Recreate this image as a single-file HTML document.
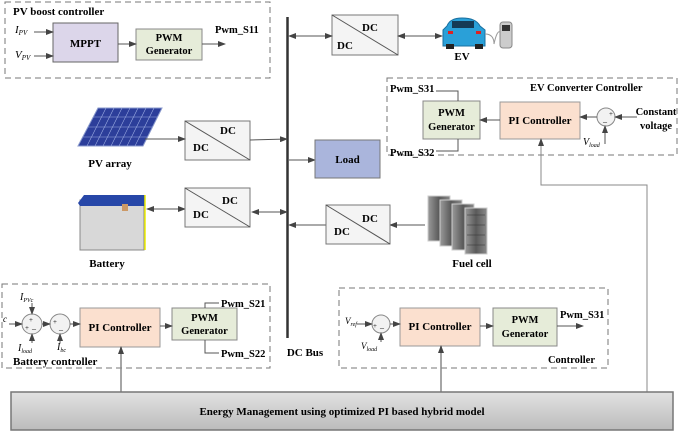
<!DOCTYPE html>
<html><head><style>
html,body{margin:0;padding:0;background:#fff;}
svg{display:block;font-family:"Liberation Serif",serif;}
.b{font-weight:bold;}
</style></head><body>
<svg width="685" height="432" viewBox="0 0 685 432" xmlns="http://www.w3.org/2000/svg">
<defs>
<marker id="a" markerWidth="8" markerHeight="6" refX="7" refY="3" orient="auto-start-reverse" markerUnits="userSpaceOnUse"><path d="M0,0L8,3L0,6z" fill="#444"/></marker>
<linearGradient id="g" x1="0" y1="0" x2="0" y2="1"><stop offset="0" stop-color="#e2e2e2"/><stop offset="1" stop-color="#bcbcbc"/></linearGradient>
<linearGradient id="fc" x1="0" y1="0" x2="1" y2="0"><stop offset="0" stop-color="#9a9a9a"/><stop offset="0.5" stop-color="#5a5a5a"/><stop offset="1" stop-color="#8a8a8a"/></linearGradient>
</defs>
<g fill="none" stroke="#777" stroke-dasharray="6,4" stroke-width="1">
<rect x="5" y="2" width="265" height="76"/>
<rect x="387" y="78" width="290" height="77"/>
<rect x="2" y="284" width="268" height="84"/>
<rect x="339" y="288" width="269" height="80"/>
</g>
<line x1="287.5" y1="17" x2="287.5" y2="338" stroke="#333" stroke-width="2.5"/>
<text x="305" y="356" font-size="11" class="b" text-anchor="middle">DC Bus</text>
<text x="13" y="15" font-size="11" class="b">PV boost controller</text>
<rect x="53" y="23" width="65" height="39" fill="#dcd6ea" stroke="#666"/>
<text x="85.5" y="47" font-size="11" class="b" text-anchor="middle">MPPT</text>
<rect x="136" y="29" width="66" height="31" fill="#e6ecd9" stroke="#888"/>
<text x="169" y="41" font-size="10.5" class="b" text-anchor="middle">PWM</text>
<text x="169" y="54" font-size="10.5" class="b" text-anchor="middle">Generator</text>
<text x="15" y="33" font-size="11" font-style="italic">I<tspan font-size="7" dy="2">PV</tspan></text>
<text x="15" y="58" font-size="11" font-style="italic">V<tspan font-size="7" dy="2">PV</tspan></text>
<g stroke="#555" fill="none" marker-end="url(#a)">
<line x1="34" y1="32" x2="53" y2="32"/>
<line x1="34" y1="56" x2="53" y2="56"/>
<line x1="118" y1="44" x2="136" y2="44"/>
<line x1="202" y1="44" x2="225" y2="44"/>
</g>
<text x="215" y="33" font-size="10.5" class="b">Pwm_S11</text>
<rect x="332" y="15" width="66" height="40" fill="#f4f4f4" stroke="#777"/>
<line x1="332" y1="15" x2="398" y2="55" stroke="#555"/>
<text x="370" y="31" font-size="11" class="b" text-anchor="middle">DC</text>
<text x="345" y="49" font-size="11" class="b" text-anchor="middle">DC</text>
<g stroke="#555" fill="none" marker-end="url(#a)" marker-start="url(#a)">
<line x1="289" y1="36" x2="332" y2="36"/>
<line x1="398" y1="36" x2="442" y2="36"/>
<line x1="252" y1="212" x2="287" y2="212"/>
<line x1="147" y1="209" x2="185" y2="209"/>
</g>
<path d="M447,26 Q450,18 462,18 Q476,18 480,26 L485,30 L485,46 L443,46 L443,30Z" fill="#2aa0d8" stroke="#1a70a0"/>
<rect x="452" y="21" width="22" height="7" fill="#153a55"/>
<rect x="446" y="44" width="8" height="5" fill="#222"/><rect x="475" y="44" width="8" height="5" fill="#222"/>
<rect x="448" y="31" width="5" height="3" fill="#d22"/><rect x="476" y="31" width="5" height="3" fill="#d22"/>
<rect x="500" y="22" width="12" height="26" rx="3" fill="#ccc" stroke="#888"/>
<rect x="502" y="25" width="8" height="6" fill="#333"/>
<path d="M485,34 Q494,34 494,44 Q497,30 500,32" fill="none" stroke="#999"/>
<text x="462" y="60" font-size="11" class="b" text-anchor="middle">EV</text>
<text x="530" y="91" font-size="10.5" class="b">EV Converter Controller</text>
<text x="390" y="92" font-size="10.5" class="b">Pwm_S31</text>
<text x="390" y="156" font-size="10.5" class="b">Pwm_S32</text>
<rect x="423" y="101" width="57" height="38" fill="#e6ecd9" stroke="#888"/>
<text x="451.5" y="116" font-size="10.5" class="b" text-anchor="middle">PWM</text>
<text x="451.5" y="130" font-size="10.5" class="b" text-anchor="middle">Generator</text>
<rect x="500" y="102" width="80" height="37" fill="#fbe0cf" stroke="#999"/>
<text x="540" y="124" font-size="11" class="b" text-anchor="middle">PI Controller</text>
<circle cx="606" cy="117" r="9" fill="#f2f2f2" stroke="#888"/>
<text x="609" y="116" font-size="7">+</text><text x="603" y="124" font-size="8">–</text>
<g stroke="#555" fill="none">
<polyline points="436,91 458,91 458,101"/>
<polyline points="436,151 458,151 458,139"/>
<line x1="637" y1="117" x2="615" y2="117" marker-end="url(#a)"/>
<line x1="597" y1="117" x2="580" y2="117" marker-end="url(#a)"/>
<line x1="500" y1="120" x2="480" y2="120" marker-end="url(#a)"/>
<polyline points="605,144 605,126" marker-end="url(#a)"/>
<polyline points="647,392 647,185 541,185 541,139" stroke="#888" marker-end="url(#a)"/>
</g>
<text x="583" y="145" font-size="10" font-style="italic">V<tspan font-size="6" dy="2">load</tspan></text>
<text x="656" y="115" font-size="10.5" class="b" text-anchor="middle">Constant</text>
<text x="656" y="129" font-size="10.5" class="b" text-anchor="middle">voltage</text>
<polygon points="98,108 162,108 143,146 78,146" fill="#2c3e9a" stroke="#8898cc"/>
<g stroke="#9aaae0" stroke-width="0.6">
<line x1="93" y1="117" x2="158" y2="117"/><line x1="88" y1="127" x2="153" y2="127"/><line x1="83" y1="137" x2="148" y2="137"/>
<line x1="106" y1="108" x2="87" y2="146"/><line x1="114" y1="108" x2="95" y2="146"/><line x1="122" y1="108" x2="103" y2="146"/><line x1="130" y1="108" x2="111" y2="146"/><line x1="138" y1="108" x2="119" y2="146"/><line x1="146" y1="108" x2="127" y2="146"/><line x1="154" y1="108" x2="135" y2="146"/>
</g>
<text x="110" y="167" font-size="11" class="b" text-anchor="middle">PV array</text>
<rect x="185" y="121" width="65" height="39" fill="#f4f4f4" stroke="#777"/>
<line x1="185" y1="121" x2="250" y2="160" stroke="#555"/>
<text x="228" y="134" font-size="11" class="b" text-anchor="middle">DC</text>
<text x="201" y="151" font-size="11" class="b" text-anchor="middle">DC</text>
<g stroke="#555" fill="none" marker-end="url(#a)">
<line x1="145" y1="139" x2="185" y2="139"/>
<line x1="250" y1="140" x2="287" y2="139"/>
<line x1="289" y1="160" x2="315" y2="160"/>
<line x1="425" y1="225" x2="390" y2="225"/>
<line x1="326" y1="225" x2="289" y2="225"/>
</g>
<rect x="315" y="140" width="65" height="38" fill="#aab5dc" stroke="#777"/>
<text x="347.5" y="163" font-size="11" class="b" text-anchor="middle">Load</text>
<rect x="80" y="200" width="64" height="50" fill="#d8d8d8" stroke="#888"/>
<polygon points="78,203 84,195 145,195 145,206 80,206" fill="#2747a8"/>
<rect x="122" y="204" width="6" height="7" fill="#c96"/>
<line x1="145" y1="195" x2="145" y2="250" stroke="#ee0" stroke-width="1.5"/>
<text x="107" y="267" font-size="11" class="b" text-anchor="middle">Battery</text>
<rect x="185" y="188" width="65" height="39" fill="#f4f4f4" stroke="#777"/>
<line x1="185" y1="188" x2="250" y2="227" stroke="#555"/>
<text x="230" y="204" font-size="11" class="b" text-anchor="middle">DC</text>
<text x="201" y="218" font-size="11" class="b" text-anchor="middle">DC</text>
<rect x="326" y="205" width="64" height="39" fill="#f4f4f4" stroke="#777"/>
<line x1="326" y1="205" x2="390" y2="244" stroke="#555"/>
<text x="370" y="222" font-size="11" class="b" text-anchor="middle">DC</text>
<text x="342" y="235" font-size="11" class="b" text-anchor="middle">DC</text>
<g fill="url(#fc)" stroke="#ccc">
<rect x="428" y="196" width="22" height="45"/><rect x="440" y="200" width="22" height="46"/><rect x="452" y="204" width="22" height="46"/><rect x="465" y="208" width="22" height="46"/>
</g>
<g stroke="#333" stroke-width="0.5">
<line x1="467" y1="215" x2="485" y2="215"/><line x1="467" y1="225" x2="485" y2="225"/><line x1="467" y1="235" x2="485" y2="235"/><line x1="467" y1="245" x2="485" y2="245"/>
</g>
<text x="472" y="267" font-size="11" class="b" text-anchor="middle">Fuel cell</text>
<text x="13" y="365" font-size="11" class="b">Battery controller</text>
<circle cx="32" cy="324" r="10" fill="#f2f2f2" stroke="#888"/>
<text x="29" y="322" font-size="7">+</text><text x="25" y="330" font-size="7">+</text><text x="32" y="331" font-size="8">–</text>
<circle cx="60" cy="324" r="10" fill="#f2f2f2" stroke="#888"/>
<text x="53" y="324" font-size="7">+</text><text x="59" y="332" font-size="8">–</text>
<text x="3" y="322" font-size="9" font-style="italic">c</text>
<text x="20" y="300" font-size="10" font-style="italic">I<tspan font-size="6" dy="2">PVc</tspan></text>
<text x="18" y="351" font-size="10" font-style="italic">I<tspan font-size="6" dy="2">load</tspan></text>
<text x="57" y="350" font-size="10" font-style="italic">I<tspan font-size="6" dy="2">bc</tspan></text>
<rect x="80" y="308" width="80" height="39" fill="#fbe0cf" stroke="#999"/>
<text x="120" y="331" font-size="11" class="b" text-anchor="middle">PI Controller</text>
<rect x="172" y="308" width="65" height="32" fill="#e6ecd9" stroke="#888"/>
<text x="204.5" y="321" font-size="10.5" class="b" text-anchor="middle">PWM</text>
<text x="204.5" y="334" font-size="10.5" class="b" text-anchor="middle">Generator</text>
<text x="221" y="307" font-size="10.5" class="b">Pwm_S21</text>
<text x="221" y="357" font-size="10.5" class="b">Pwm_S22</text>
<g stroke="#555" fill="none">
<polyline points="219,303 205,303 205,308"/>
<polyline points="219,353 205,353 205,340"/>
<line x1="9" y1="324" x2="22" y2="324" marker-end="url(#a)"/>
<line x1="32" y1="303" x2="32" y2="314" marker-end="url(#a)"/>
<line x1="32" y1="343" x2="32" y2="334" marker-end="url(#a)"/>
<line x1="42" y1="324" x2="50" y2="324" marker-end="url(#a)"/>
<line x1="60" y1="343" x2="60" y2="334" marker-end="url(#a)"/>
<line x1="70" y1="324" x2="80" y2="324" marker-end="url(#a)"/>
<line x1="160" y1="326" x2="172" y2="326" marker-end="url(#a)"/>
<line x1="121" y1="392" x2="121" y2="347" stroke="#888" stroke-width="1.5" marker-end="url(#a)"/>
</g>
<text x="345" y="324" font-size="9" font-style="italic">V<tspan font-size="6" dy="2">ref</tspan></text>
<circle cx="381" cy="324" r="9" fill="#f2f2f2" stroke="#888"/>
<text x="373" y="328" font-size="7">+</text><text x="380" y="330" font-size="8">–</text>
<text x="361" y="349" font-size="9" font-style="italic">V<tspan font-size="6" dy="2">load</tspan></text>
<rect x="400" y="308" width="80" height="38" fill="#fbe0cf" stroke="#999"/>
<text x="440" y="330" font-size="11" class="b" text-anchor="middle">PI Controller</text>
<rect x="493" y="308" width="64" height="38" fill="#e6ecd9" stroke="#888"/>
<text x="525" y="323" font-size="10.5" class="b" text-anchor="middle">PWM</text>
<text x="525" y="337" font-size="10.5" class="b" text-anchor="middle">Generator</text>
<text x="560" y="318" font-size="10.5" class="b">Pwm_S31</text>
<text x="595" y="363" font-size="10.5" class="b" text-anchor="end">Controller</text>
<g stroke="#555" fill="none">
<line x1="357" y1="324" x2="372" y2="324" marker-end="url(#a)"/>
<line x1="381" y1="342" x2="381" y2="333" marker-end="url(#a)"/>
<line x1="390" y1="324" x2="400" y2="324" marker-end="url(#a)"/>
<line x1="480" y1="326" x2="493" y2="326" marker-end="url(#a)"/>
<line x1="557" y1="326" x2="583" y2="326" marker-end="url(#a)"/>
<line x1="441" y1="392" x2="441" y2="346" stroke="#888" stroke-width="1.5" marker-end="url(#a)"/>
</g>
<rect x="11" y="392" width="662" height="38" fill="url(#g)" stroke="#777" stroke-width="1.5"/>
<text x="342" y="415" font-size="11" class="b" text-anchor="middle">Energy Management using optimized PI based hybrid model</text>
</svg>
</body></html>
